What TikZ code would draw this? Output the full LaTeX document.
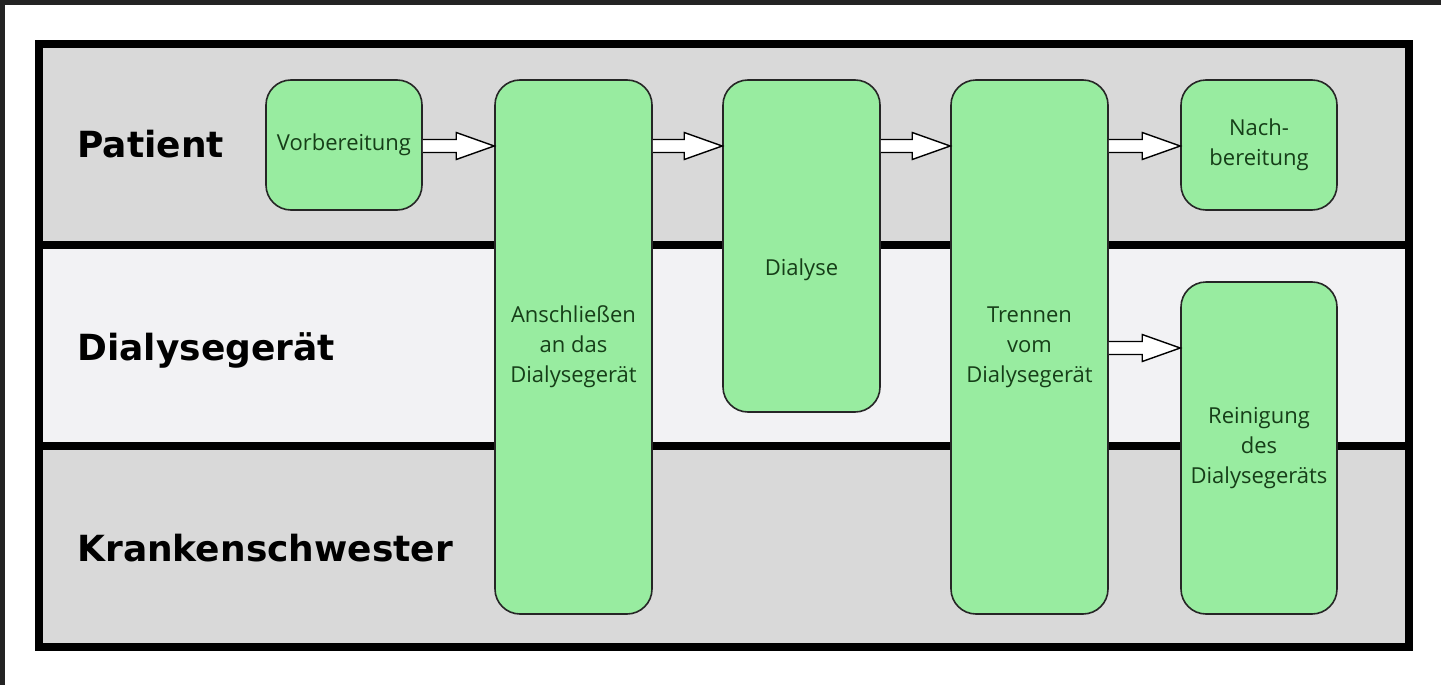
\documentclass[tikz,border=0pt]{standalone}
\usepackage{fontspec}
\setmainfont{Open Sans}
\newfontfamily\lanefont{DejaVu Sans}
\usetikzlibrary{calc}
\definecolor{lanegray}{RGB}{217,217,217}
\definecolor{lanelight}{RGB}{242,242,244}
\definecolor{boxgreen}{RGB}{152,236,160}
\definecolor{boxtext}{RGB}{22,62,24}
\definecolor{topbar}{RGB}{35,35,35}
\tikzset{
  procbox/.style={draw=black!85, line width=0.8pt, fill=boxgreen, rounded corners=12.5pt,
    text=boxtext, font=\fontsize{11}{15}\selectfont, align=center, inner sep=0pt},
  boxlabel/.style={text=boxtext, font=\fontsize{11}{15}\selectfont, align=center, inner sep=0pt},
  lanelabel/.style={font=\lanefont\bfseries\fontsize{18}{22}\selectfont, anchor=base west, inner sep=0pt},
  frameline/.style={line width=4pt, draw=black},
  blockarrow/.style={draw=black, fill=white, line width=0.7pt, line join=miter}
}
% #1 source node, #2 target node, #3 row coordinate
\newcommand\blockarr[3]{%
  \filldraw[blockarrow] let \p1=(#1.east |- #3), \p2=(#2.west |- #3) in
    (\x1,{\y1+3.25pt}) -- ({\x2-19pt},{\y1+3.25pt}) -- ({\x2-19pt},{\y1+6.75pt}) --
    (\x2,\y1) -- ({\x2-19pt},{\y1-6.75pt}) -- ({\x2-19pt},{\y1-3.25pt}) -- (\x1,{\y1-3.25pt});}
\begin{document}
\begin{tikzpicture}[x=0.5pt,y=-0.5pt]
\useasboundingbox (0,0) rectangle (1441,685);
\fill[white] (0,0) rectangle (1441,685);
\fill[topbar] (0,0) rectangle (1441,4.5);
\fill[topbar] (0,0) rectangle (5,685);
% lanes
\fill[lanegray] (39,44) rectangle (1408.5,245);
\fill[lanelight] (39,245) rectangle (1408.5,445.5);
\fill[lanegray] (39,445.5) rectangle (1408.5,646.5);
\draw[frameline] (39,245) -- (1408.5,245);
\draw[frameline] (39,445.5) -- (1408.5,445.5);
\draw[frameline] (39,44) rectangle (1408.5,646.5);
% lane labels
\node[lanelabel] (lp) at (77,157) {Patient};
\node[lanelabel] (ld) at (77,360) {Dialysegerät};
\node[lanelabel] (lk) at (77,561) {Krankenschwester};
% arrow rows
\coordinate (rowA) at (0,146);
\coordinate (rowB) at (0,348);
% boxes
\node[procbox, minimum width=78pt, minimum height=65pt] (vorb) at (344,145) {Vorbereitung};
\node[procbox, minimum width=78.5pt, minimum height=267pt] (ansch) at (573.5,347) {Anschließen\\an das\\Dialysegerät};
\node[procbox, minimum width=78.5pt, minimum height=166pt] (dial) at (801.5,246) {};
\node[boxlabel] (dialt) at (801.5,270) {Dialyse};
\node[procbox, minimum width=78.5pt, minimum height=267pt] (trenn) at (1029.5,347) {Trennen\\vom\\Dialysegerät};
\node[procbox, minimum width=78pt, minimum height=65pt] (nach) at (1259,145) {Nach-\\bereitung};
\node[procbox, minimum width=78pt, minimum height=166pt] (rein) at (1259,448) {Reinigung\\des\\Dialysegeräts};
% arrows
\blockarr{vorb}{ansch}{rowA}
\blockarr{ansch}{dial}{rowA}
\blockarr{dial}{trenn}{rowA}
\blockarr{trenn}{nach}{rowA}
\blockarr{trenn}{rein}{rowB}
\end{tikzpicture}
\end{document}
